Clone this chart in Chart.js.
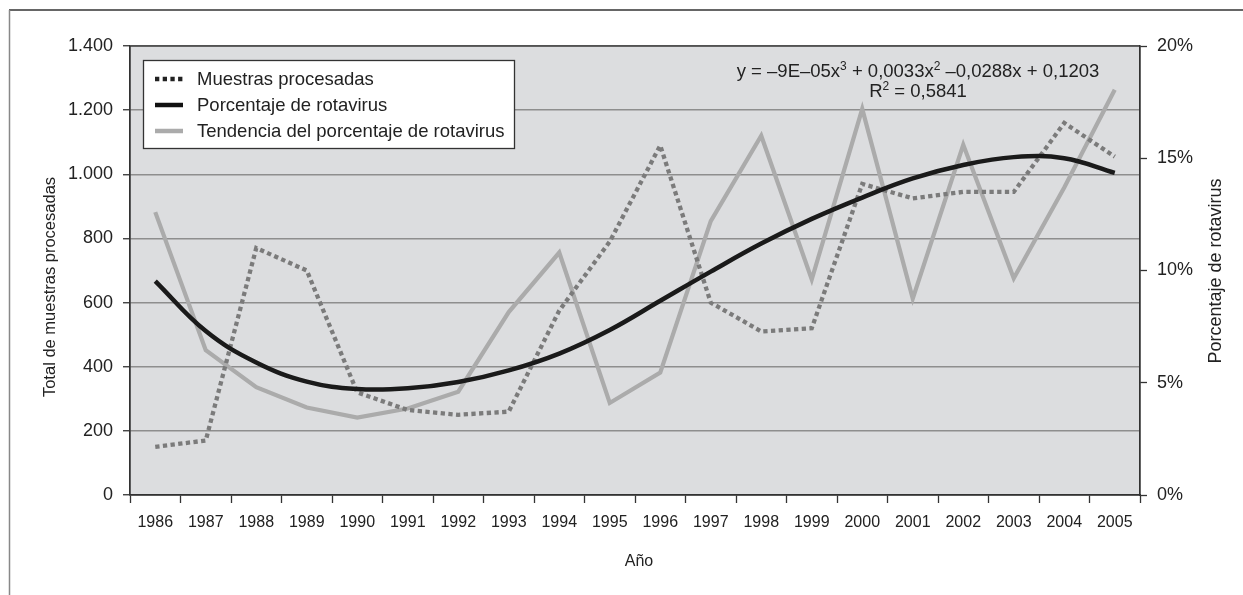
<!DOCTYPE html>
<html>
<head>
<meta charset="utf-8">
<script src="https://cdn.jsdelivr.net/npm/chart.js@4"></script>
<style>
  html, body { margin: 0; padding: 0; background: #fff; }
  #wrap { width: 1243px; height: 595px; }
</style>
</head>
<body>
<div id="wrap"><canvas id="myChart" width="1243" height="595"></canvas></div>
<script>
const ctx = document.getElementById("myChart");

// data
const years = ['1986', '1987', '1988', '1989', '1990', '1991', '1992', '1993', '1994', '1995',
               '1996', '1997', '1998', '1999', '2000', '2001', '2002', '2003', '2004', '2005'];
const muestras = [150, 170, 770, 700, 320, 265, 250, 260, 575, 790,
                  1090, 600, 510, 520, 970, 925, 945, 945, 1160, 1055];
// black smooth curve (percent)
const porcentaje = [9.53, 7.3, 5.9, 5.05, 4.72, 4.75, 5.03, 5.55, 6.3, 7.35,
                    8.65, 9.95, 11.2, 12.3, 13.25, 14.1, 14.7, 15.05, 15.0, 14.35];
// grey jagged line (percent)
const tendencia = [12.6, 6.45, 4.8, 3.9, 3.45, 3.85, 4.6, 8.15, 10.8, 4.1,
                   5.45, 12.2, 16.0, 9.6, 17.2, 8.75, 15.6, 9.65, 13.7, 18.05];
const leftTicks = [0, 200, 400, 600, 800, 1000, 1200, 1400];
const rightTicks = [0, 5, 10, 15, 20];

const FONT = "'Liberation Sans', Arial, sans-serif";
const TEXT = '#222';

const data = {
    labels: years,
    datasets: [
        {
            label: 'Muestras procesadas',
            data: muestras,
            yAxisID: 'y',
            borderColor: '#7b7b7b',
            borderWidth: 4.3,
            borderDash: [4.3, 3.4],
            pointRadius: 0,
            tension: 0,
            order: 1
        },
        {
            label: 'Porcentaje de rotavirus',
            data: porcentaje,
            yAxisID: 'y1',
            borderColor: '#1a1a1a',
            borderWidth: 4.5,
            pointRadius: 0,
            tension: 0.4,
            order: 0
        },
        {
            label: 'Tendencia del porcentaje de rotavirus',
            data: tendencia,
            yAxisID: 'y1',
            borderColor: '#ababab',
            borderWidth: 4.2,
            pointRadius: 0,
            tension: 0,
            order: 2
        }
    ]
};

// background, frame, legend box, equation, axis titles
const decor = {
    id: 'decor',
    beforeDraw(chart) {
        const c = chart.ctx, a = chart.chartArea;
        c.save();
        c.fillStyle = '#dcdddf';
        c.fillRect(a.left, a.top, a.right - a.left, a.bottom - a.top);
        // outer frame (cropped on right and bottom)
        c.lineWidth = 1.5;
        c.strokeStyle = '#333';
        c.beginPath(); c.moveTo(9, 10); c.lineTo(1243, 10); c.stroke();
        c.strokeStyle = '#888';
        c.beginPath(); c.moveTo(9.5, 10); c.lineTo(9.5, 595); c.stroke();
        c.restore();
    },
    afterDatasetsDraw(chart) {
        const c = chart.ctx, a = chart.chartArea;
        c.save();
        // plot border
        c.strokeStyle = '#333';
        c.lineWidth = 1.3;
        c.strokeRect(a.left, a.top, a.right - a.left, a.bottom - a.top);

        // legend
        c.fillStyle = '#fff';
        c.fillRect(143.5, 60.5, 371, 88);
        c.strokeStyle = '#333';
        c.lineWidth = 1.3;
        c.strokeRect(143.5, 60.5, 371, 88);
        const rows = [79, 105, 131];
        const samples = [
            { color: '#222', dash: [4.3, 3.4], w: 4.3 },
            { color: '#111', dash: [], w: 4.5 },
            { color: '#ababab', dash: [], w: 4.5 }
        ];
        chart.data.datasets.forEach((ds, i) => {
            const y = rows[i];
            c.strokeStyle = samples[i].color;
            c.lineWidth = samples[i].w;
            c.setLineDash(samples[i].dash);
            c.beginPath(); c.moveTo(155, y); c.lineTo(183, y); c.stroke();
            c.setLineDash([]);
            c.fillStyle = TEXT;
            c.font = '18.5px ' + FONT;
            c.textBaseline = 'middle';
            c.textAlign = 'left';
            c.fillText(ds.label, 197, y + 1);
        });

        // trend equation
        const big = '18.5px ' + FONT, sup = '12px ' + FONT;
        const drawRich = (parts, cx, base) => {
            let w = 0;
            parts.forEach(p => { c.font = p[1] ? sup : big; w += c.measureText(p[0]).width; });
            let x = cx - w / 2;
            c.textAlign = 'left';
            c.textBaseline = 'alphabetic';
            parts.forEach(p => {
                c.font = p[1] ? sup : big;
                c.fillText(p[0], x, p[1] ? base - 7 : base);
                x += c.measureText(p[0]).width;
            });
        };
        c.fillStyle = TEXT;
        drawRich([['y = \u20139E\u201305x', 0], ['3', 1], [' + 0,0033x', 0], ['2', 1], [' \u20130,0288x + 0,1203', 0]], 918, 77);
        drawRich([['R', 0], ['2', 1], [' = 0,5841', 0]], 918, 97);

        // axis titles
        c.font = '16.5px ' + FONT;
        c.textAlign = 'center';
        c.textBaseline = 'middle';
        c.save();
        c.translate(50, 287);
        c.rotate(-Math.PI / 2);
        c.fillText('Total de muestras procesadas', 0, 0);
        c.restore();
        c.font = '18px ' + FONT;
        c.save();
        c.translate(1216, 271);
        c.rotate(-Math.PI / 2);
        c.fillText('Porcentaje de rotavirus', 0, 0);
        c.restore();
        c.font = '16px ' + FONT;
        c.fillText('Año', 639, 562);
        c.restore();
    }
};

const config = {
    type: 'line',
    data: data,
    options: {
        responsive: false,
        animation: false,
        layout: { padding: { top: 46, left: 0, right: 0, bottom: 0 } },
        plugins: {
            legend: { display: false },
            tooltip: { enabled: false }
        },
        scales: {
            x: {
                offset: true,
                grid: { offset: true, drawOnChartArea: false, tickLength: 8, tickColor: '#333', tickWidth: 1.3 },
                border: { color: '#333', width: 1.3 },
                ticks: { color: TEXT, font: { family: FONT, size: 16 }, padding: 10, maxRotation: 0, autoSkip: false },
                afterFit(scale) { scale.height = 100; }
            },
            y: {
                position: 'left',
                min: 0,
                max: 1400,
                afterBuildTicks(scale) { scale.ticks = leftTicks.map(v => ({ value: v })); },
                grid: { color: '#8e8e8e', lineWidth: 1.5, tickLength: 7, tickColor: '#333', tickWidth: 1.3 },
                border: { color: '#333', width: 1.3 },
                ticks: {
                    color: TEXT,
                    font: { family: FONT, size: 18 },
                    padding: 10,
                    callback: v => v.toLocaleString('de-DE')
                },
                afterFit(scale) { scale.width = 130; }
            },
            y1: {
                position: 'right',
                min: 0,
                max: 20,
                afterBuildTicks(scale) { scale.ticks = rightTicks.map(v => ({ value: v })); },
                grid: { drawOnChartArea: false, tickLength: 7, tickColor: '#333', tickWidth: 1.3 },
                border: { color: '#333', width: 1.3 },
                ticks: {
                    color: TEXT,
                    font: { family: FONT, size: 18 },
                    padding: 10,
                    callback: v => v + '%'
                },
                afterFit(scale) { scale.width = 103; }
            }
        }
    },
    plugins: [decor]
};

new Chart(ctx, config);
</script>
</body>
</html>
